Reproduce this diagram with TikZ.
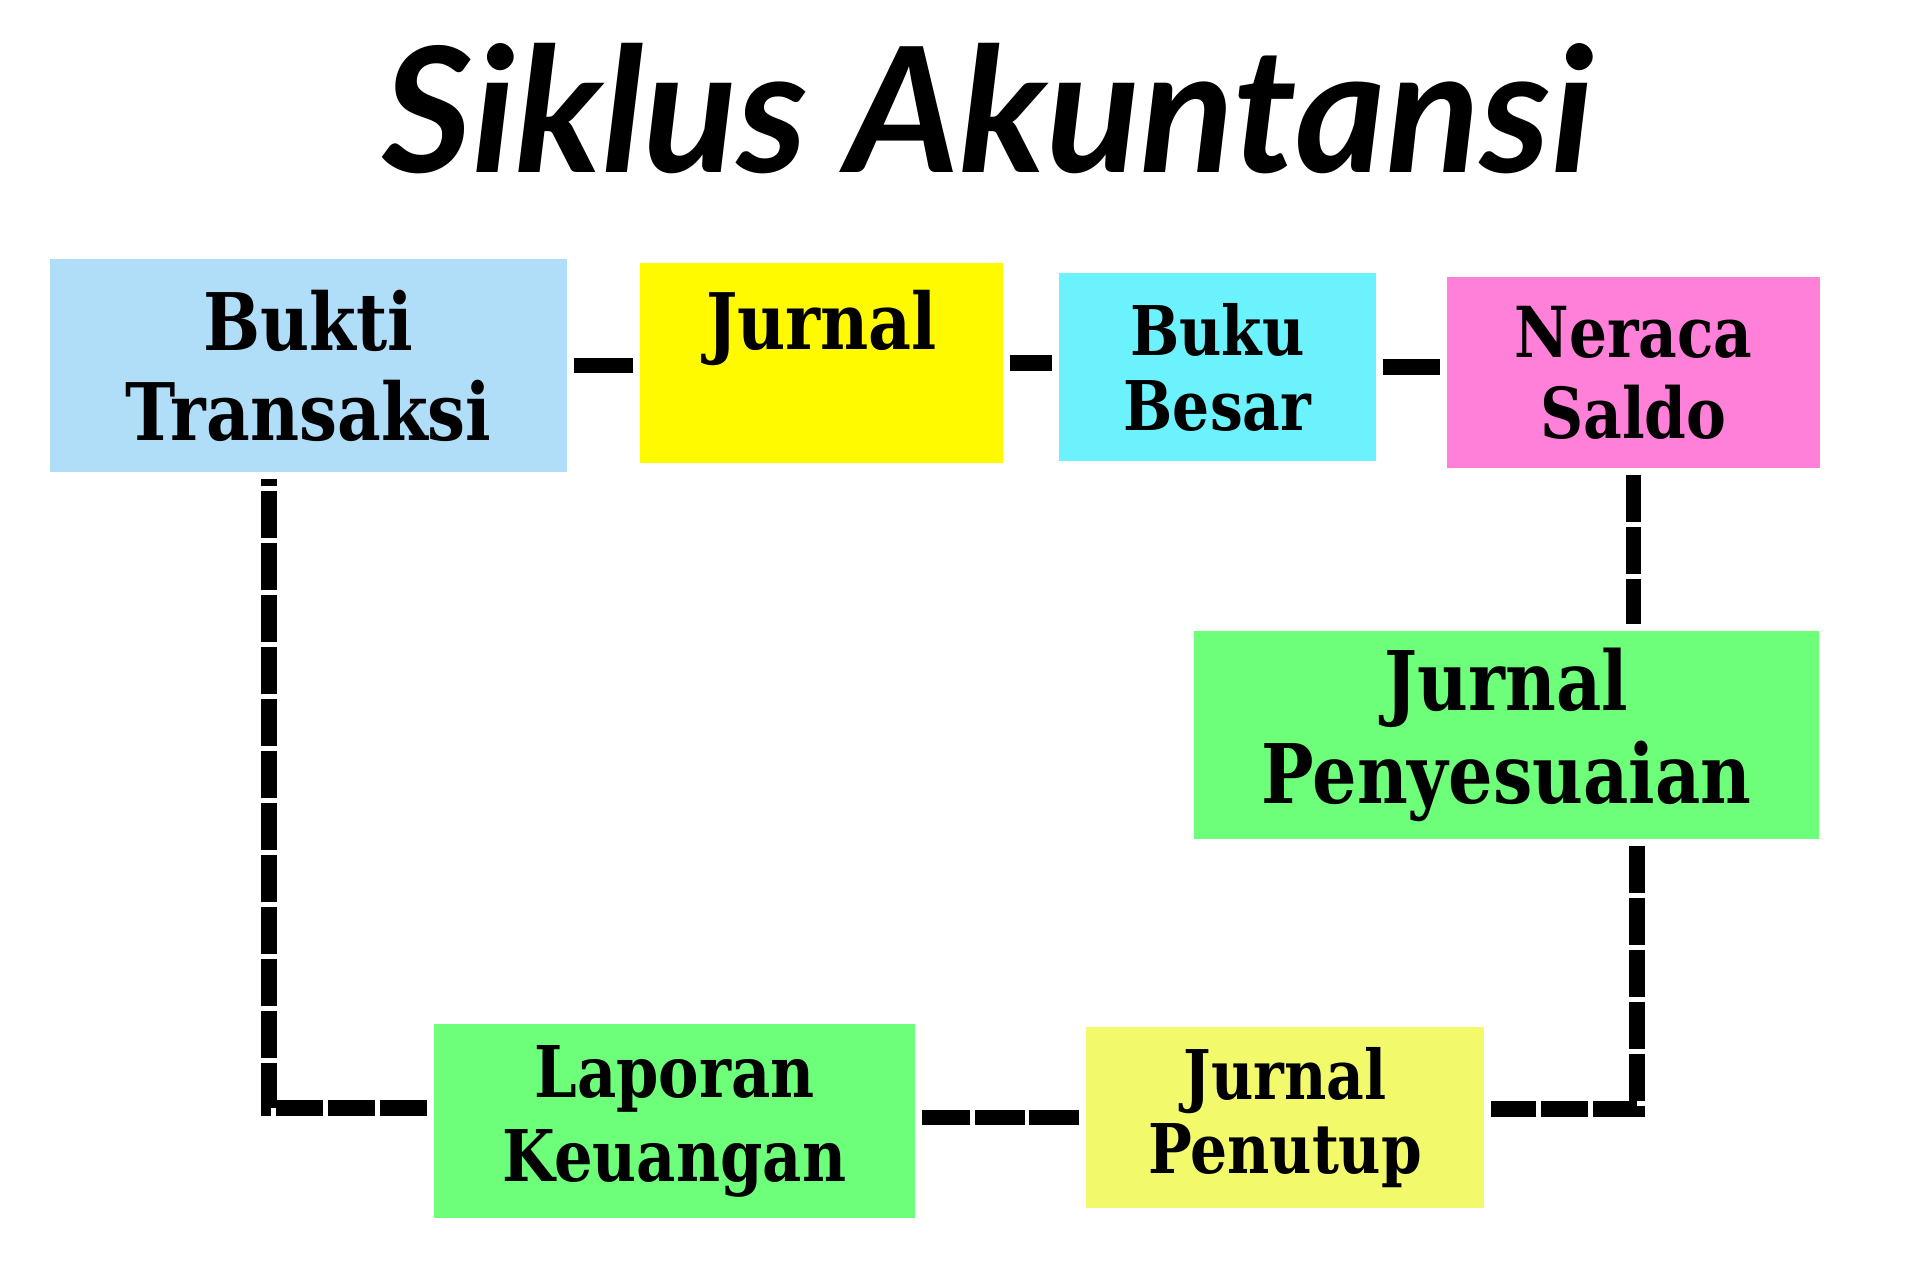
\documentclass[tikz,border=0pt]{standalone}
\usepackage{fontspec}
\usepackage{tikz}
\usepackage{xcolor}
\setmainfont[FakeStretch=0.85]{DejaVu Serif}
\newfontfamily\titlefont{Lato}

\definecolor{biru}{HTML}{B0DEF9}
\definecolor{kuning}{HTML}{FFFA00}
\definecolor{sian}{HTML}{6BF2FC}
\definecolor{merahmuda}{HTML}{FF80D8}
\definecolor{hijau}{HTML}{6EFF7A}
\definecolor{kuningmuda}{HTML}{F2FA6C}

\begin{document}
\begin{tikzpicture}[
            card/.style={rectangle, inner sep=0pt, align=center, text=black, font=\bfseries},
            conn/.style={draw=black, line width=4.5pt, dash pattern=on 0.47cm off 0.05cm,
                         shorten <=0.06cm, shorten >=0.06cm},
            lab/.style={font=\titlefont\bfseries\itshape\fontsize{49.5}{54}\selectfont}
        ]
        \useasboundingbox (0,0) rectangle (19.09,-12.69);

        % title
        \node[lab, anchor=base] (judul) at (9.88,-1.72) {Siklus Akuntansi};

        % boxes
        \node[card, fill=biru, minimum width=5.17cm, minimum height=2.13cm,
              font=\bfseries\fontsize{22.6}{25.6}\selectfont] (bukti) at (3.085,-3.655) {Bukti\\Transaksi};
        \node[card, fill=kuning, minimum width=3.63cm, text height=0.86cm, text depth=1.14cm,
              font=\bfseries\fontsize{22.2}{25}\selectfont] (jurnal) at (8.215,-3.63) {Jurnal};
        \node[card, fill=sian, minimum width=3.17cm, minimum height=1.88cm,
              font=\bfseries\fontsize{19.5}{21.3}\selectfont] (buku) at (12.175,-3.67) {Buku\\Besar};
        \node[card, fill=merahmuda, minimum width=3.73cm, minimum height=1.91cm,
              font=\bfseries\fontsize{20}{23}\selectfont] (neraca) at (16.335,-3.725) {Neraca\\Saldo};

        \node[card, fill=hijau, minimum width=6.25cm, minimum height=2.08cm,
              font=\bfseries\fontsize{23.4}{26.5}\selectfont] (penyesuaian) at (15.065,-7.35) {Jurnal\\Penyesuaian};

        \node[card, fill=kuningmuda, minimum width=3.98cm, minimum height=1.81cm,
              font=\bfseries\fontsize{19.5}{21.3}\selectfont] (penutup) at (12.85,-11.175) {Jurnal\\Penutup};
        \node[card, fill=hijau, minimum width=4.81cm, minimum height=1.94cm,
              font=\bfseries\fontsize{20.3}{23.9}\selectfont] (laporan) at (6.745,-11.21) {Laporan\\Keuangan};

        % corners
        \coordinate (sudut1) at (16.37,-11.09);
        \coordinate (sudut2) at (2.69,-11.08);

        % connectors
        \draw[conn, solid] (bukti.east) -- (bukti.east -| jurnal.west);
        \draw[conn, solid] (jurnal.east) -- (jurnal.east -| buku.west);
        \draw[conn, solid] (buku.east) -- (buku.east -| neraca.west);
        \draw[conn] (neraca.south) -- (neraca.south |- penyesuaian.north);
        \draw[conn] (penyesuaian.south -| sudut1) -- (sudut1) -- (sudut1 -| penutup.east);
        \draw[conn, dash pattern=on 0.5cm off 0.045cm] (penutup.west) -- (penutup.west -| laporan.east);
        \draw[conn] (laporan.west |- sudut2) -- (sudut2) -- (sudut2 |- bukti.south);
    \end{tikzpicture}
\end{document}
